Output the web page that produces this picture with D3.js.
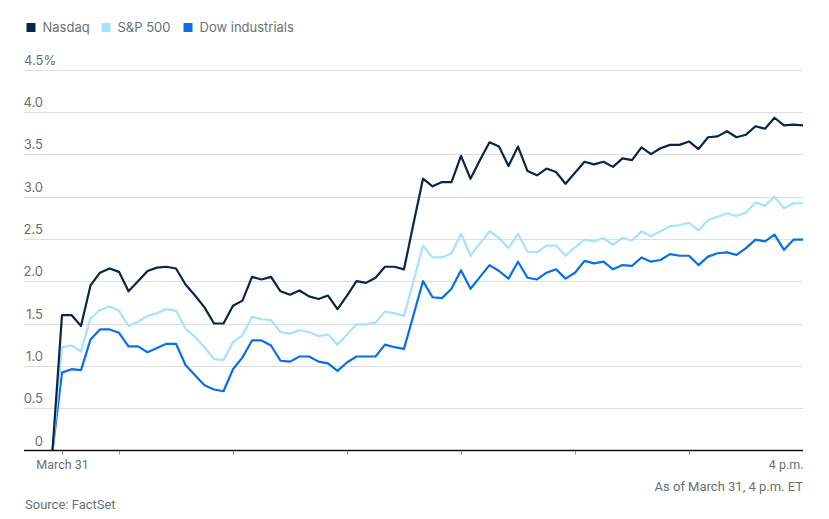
<!DOCTYPE html>
<html>
<head>
<meta charset="utf-8">
<script src="https://cdn.jsdelivr.net/npm/d3@7"></script>
<style>
  html, body { margin: 0; padding: 0; background: #ffffff; }
  svg { display: block; font-family: Inter, "Noto Sans", sans-serif; }
</style>
</head>
<body>
<svg id="chart" width="829" height="519"></svg>
<script>
// ---- Data ----
const seriesNames = ["Nasdaq", "S&P 500", "Dow industrials"];
const seriesColors = ["#0b2547", "#a6e3ff", "#0a6fe6"];
// minutes since midnight: previous close shown at 9:25, then every 5 minutes 9:30 .. 16:00
const startMinute = 9 * 60 + 25;
const stepMinutes = 5;

const nasdaq = [0, 1.60, 1.60, 1.47, 1.95, 2.10, 2.15, 2.11, 1.88, 2.00,
  2.12, 2.16, 2.17, 2.15, 1.96, 1.83, 1.69, 1.50, 1.50, 1.71,
  1.77, 2.05, 2.02, 2.05, 1.88, 1.84, 1.89, 1.82, 1.79, 1.83,
  1.67, 1.83, 2.00, 1.98, 2.04, 2.17, 2.17, 2.14, 2.68, 3.21,
  3.12, 3.17, 3.17, 3.48, 3.21, 3.43, 3.64, 3.59, 3.36, 3.59,
  3.30, 3.25, 3.33, 3.29, 3.15, 3.28, 3.41, 3.38, 3.41, 3.35,
  3.45, 3.43, 3.58, 3.50, 3.57, 3.61, 3.61, 3.65, 3.56, 3.70,
  3.71, 3.77, 3.70, 3.73, 3.83, 3.80, 3.93, 3.84, 3.85, 3.84];

const sp500 = [0, 1.22, 1.24, 1.17, 1.56, 1.66, 1.70, 1.65, 1.47, 1.52,
  1.59, 1.62, 1.67, 1.65, 1.44, 1.34, 1.22, 1.08, 1.07, 1.28,
  1.36, 1.58, 1.55, 1.54, 1.40, 1.38, 1.42, 1.40, 1.35, 1.37,
  1.25, 1.37, 1.49, 1.49, 1.51, 1.64, 1.62, 1.59, 2.00, 2.42,
  2.28, 2.28, 2.33, 2.56, 2.30, 2.45, 2.59, 2.51, 2.39, 2.56,
  2.35, 2.34, 2.42, 2.42, 2.30, 2.40, 2.49, 2.47, 2.51, 2.43,
  2.51, 2.48, 2.59, 2.53, 2.59, 2.65, 2.66, 2.69, 2.60, 2.72,
  2.76, 2.80, 2.77, 2.81, 2.93, 2.89, 3.00, 2.86, 2.92, 2.92];

const dow = [0, 0.92, 0.96, 0.95, 1.31, 1.43, 1.43, 1.39, 1.23, 1.23,
  1.16, 1.21, 1.26, 1.26, 1.01, 0.89, 0.77, 0.72, 0.70, 0.96,
  1.10, 1.30, 1.30, 1.24, 1.06, 1.05, 1.11, 1.11, 1.05, 1.03,
  0.94, 1.04, 1.11, 1.11, 1.11, 1.25, 1.22, 1.20, 1.60, 2.00,
  1.81, 1.80, 1.91, 2.13, 1.91, 2.05, 2.19, 2.12, 2.03, 2.23,
  2.04, 2.02, 2.10, 2.14, 2.03, 2.10, 2.24, 2.21, 2.23, 2.14,
  2.19, 2.18, 2.28, 2.23, 2.25, 2.32, 2.30, 2.30, 2.19, 2.29,
  2.33, 2.34, 2.31, 2.39, 2.49, 2.47, 2.55, 2.37, 2.49, 2.49];

const yTicks = [0, 0.5, 1.0, 1.5, 2.0, 2.5, 3.0, 3.5, 4.0, 4.5];
const yTickLabels = ["0", "0.5", "1.0", "1.5", "2.0", "2.5", "3.0", "3.5", "4.0", "4.5%"];
const xTicks = [570, 600, 660, 720, 780, 840, 900, 960]; // 9:30, 10, 11, 12, 1, 2, 3, 4 p.m.
const xTickLabels = ["March 31", "", "", "", "", "", "", "4 p.m."];
const noteText = "As of March 31, 4 p.m. ET";
const sourceText = "Source: FactSet";

// ---- Layout ----
const svg = d3.select("#chart");
const plotLeft = 24, plotRight = 803, plotTop = 69.5, plotBottom = 450.5;
const textColor = "#6b6f73";

const allSeries = [nasdaq, sp500, dow];
const times = nasdaq.map((_, i) => startMinute + i * stepMinutes);

const x = d3.scaleLinear().domain([550, 960]).range([plotLeft, plotRight]);
const y = d3.scaleLinear().domain([0, 4.5]).range([plotBottom, plotTop]);

// gridlines
svg.append("g")
  .selectAll("line")
  .data(yTicks.slice(1))
  .join("line")
  .attr("x1", plotLeft).attr("x2", plotRight)
  .attr("y1", d => Math.round(y(d)) + 0.5).attr("y2", d => Math.round(y(d)) + 0.5)
  .attr("stroke", "#dedede").attr("stroke-width", 1);

// y labels
svg.append("g")
  .selectAll("text")
  .data(yTicks)
  .join("text")
  .attr("x", (d, i) => i === yTicks.length - 1 ? plotLeft : 43)
  .attr("y", d => y(d) - 5)
  .attr("text-anchor", (d, i) => i === yTicks.length - 1 ? "start" : "end")
  .attr("fill", textColor)
  .attr("font-size", 13)
  .text((d, i) => yTickLabels[i]);

// lines
const line = d3.line()
  .x((d, i) => x(times[i]))
  .y(d => y(d));

[2, 1, 0].forEach(k => {
  svg.append("path")
    .datum(allSeries[k])
    .attr("d", line)
    .attr("fill", "none")
    .attr("stroke", seriesColors[k])
    .attr("stroke-width", 2.2)
    .attr("stroke-linejoin", "round");
});

// x axis
const xAxis = d3.axisBottom(x)
  .tickValues(xTicks)
  .tickSize(4)
  .tickFormat((d, i) => xTickLabels[i]);

const gx = svg.append("g")
  .attr("transform", `translate(0,${plotBottom})`)
  .call(xAxis);
gx.select(".domain").remove();
gx.append("line")
  .attr("x1", plotLeft).attr("x2", plotRight)
  .attr("y1", 0).attr("y2", 0)
  .attr("stroke", "#111").attr("stroke-width", 1.5);
gx.selectAll(".tick line").attr("stroke", "#999").attr("y1", 1);
gx.selectAll(".tick").filter((d, i) => i === xTicks.length - 1).select("line").remove();
gx.selectAll(".tick text")
  .attr("fill", textColor)
  .attr("font-size", 12.5)
  .attr("font-family", "'Liberation Sans Narrow', Roboto, sans-serif")
  .attr("dy", "0.95em")
  .attr("y", 7);
gx.selectAll(".tick").filter((d, i) => i === xTicks.length - 1).select("text")
  .attr("text-anchor", "end");

// note + source
svg.append("text")
  .attr("x", plotRight).attr("y", 491)
  .attr("text-anchor", "end")
  .attr("fill", textColor)
  .attr("font-size", 13)
  .attr("font-family", "'Liberation Sans Narrow', Roboto, sans-serif")
  .text(noteText);

svg.append("text")
  .attr("x", 25).attr("y", 509)
  .attr("fill", textColor)
  .attr("font-size", 13)
  .attr("font-family", "'Liberation Sans Narrow', Roboto, sans-serif")
  .text(sourceText);

// legend
const legendX = [26.5, 101.5, 183.5];
const legend = svg.append("g");
seriesNames.forEach((name, i) => {
  legend.append("rect")
    .attr("x", legendX[i]).attr("y", 23)
    .attr("width", 9).attr("height", 9)
    .attr("fill", seriesColors[i]);
  legend.append("text")
    .attr("x", legendX[i] + 16).attr("y", 32)
    .attr("fill", textColor)
    .attr("font-size", 13)
    .text(name);
});
</script>
</body>
</html>
